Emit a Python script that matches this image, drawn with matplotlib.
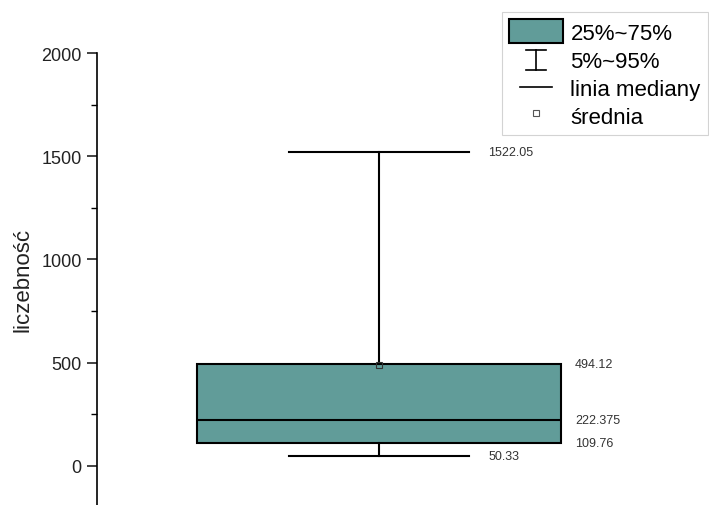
import matplotlib.pyplot as plt
from matplotlib.patches import Patch
from matplotlib.lines import Line2D
from matplotlib.legend_handler import HandlerBase
from matplotlib.ticker import MultipleLocator

plt.rcParams['font.family'] = ['Liberation Sans', 'DejaVu Sans']

# summary statistics of the distribution
p5 = 50.33
q25 = 109.76
median = 222.375
q75 = 494.12
p95 = 1522.05
mean = 490.0

y_ticks = [0, 500, 1000, 1500, 2000]
legend_labels = ['25%~75%', '5%~95%', 'linia mediany', 'średnia']

box_color = '#619c99'


class WhiskerKey:
    pass


class ShortLineKey:
    pass


class HandlerWhisker(HandlerBase):
    """I-shaped glyph for the 5%-95% range."""
    def create_artists(self, legend, orig_handle, xdescent, ydescent,
                       width, height, fontsize, trans):
        cx = width / 2 - xdescent
        y0 = -ydescent + 0.05 * height
        y1 = -ydescent + 0.9 * height
        cw = 0.18 * width
        kw = dict(color='black', lw=1.2, transform=trans)
        return [Line2D([cx, cx], [y0, y1], **kw),
                Line2D([cx - cw, cx + cw], [y0, y0], **kw),
                Line2D([cx - cw, cx + cw], [y1, y1], **kw)]


class HandlerShortLine(HandlerBase):
    def create_artists(self, legend, orig_handle, xdescent, ydescent,
                       width, height, fontsize, trans):
        cx = width / 2 - xdescent
        cy = height / 2 - ydescent
        hw = 0.3 * width
        return [Line2D([cx - hw, cx + hw], [cy, cy], color='black', lw=1.2,
                       transform=trans)]


fig = plt.figure(figsize=(7.09, 5.06), dpi=100)
ax = fig.add_axes([97 / 709, 0, (661 - 97) / 709, 452 / 506])
ax.set_xlim(0, 2)
ax.set_ylim(-189, 2000)

stats = [dict(whislo=p5, q1=q25, med=median, q3=q75, whishi=p95, mean=mean)]
ax.bxp(stats, positions=[1], widths=1.29, capwidths=0.64,
       showmeans=True, showfliers=False, patch_artist=True,
       boxprops=dict(facecolor=box_color, edgecolor='black', linewidth=1.5),
       medianprops=dict(color='black', linewidth=1.5),
       whiskerprops=dict(color='black', linewidth=1.5),
       capprops=dict(color='black', linewidth=1.5),
       meanprops=dict(marker='s', markersize=4, markerfacecolor='none',
                      markeredgecolor='#333333', markeredgewidth=0.8))

# value labels next to caps and box edges
for val in [p95, p5]:
    ax.text(1.387, val, f'{val:g}', fontsize=9, color='#333333',
            ha='left', va='center')
for val in [q75, median, q25]:
    ax.text(1.695, val, f'{val:g}', fontsize=9, color='#333333',
            ha='left', va='center')

for side in ['top', 'right', 'bottom']:
    ax.spines[side].set_visible(False)
ax.spines['left'].set_linewidth(1.2)
ax.set_xticks([])
ax.set_yticks(y_ticks)
ax.yaxis.set_minor_locator(MultipleLocator(250))
ax.tick_params(axis='y', which='major', length=7, width=1.2, labelsize=13,
               pad=4, colors='#222222')
ax.tick_params(axis='y', which='minor', length=4, width=1.0)
ax.set_ylabel('liczebność', fontsize=16, labelpad=6, color='#222222')

handles = [Patch(facecolor=box_color, edgecolor='black', linewidth=1.5),
           WhiskerKey(), ShortLineKey(),
           Line2D([], [], linestyle='none', marker='s', markersize=4,
                  markerfacecolor='white', markeredgecolor='#555555',
                  markeredgewidth=0.8)]
leg = fig.legend(handles, legend_labels, loc='upper right',
                 bbox_to_anchor=(708 / 709, 1 - 13 / 506),
                 handler_map={WhiskerKey: HandlerWhisker(),
                              ShortLineKey: HandlerShortLine()},
                 fontsize=16, frameon=True, fancybox=False,
                 edgecolor='#c8c8c8', handlelength=2.4, handleheight=1.25,
                 handletextpad=0.35, labelspacing=0.17, borderpad=0.33,
                 borderaxespad=0)
leg.get_frame().set_linewidth(0.8)

fig.savefig('out.png', dpi=100)
